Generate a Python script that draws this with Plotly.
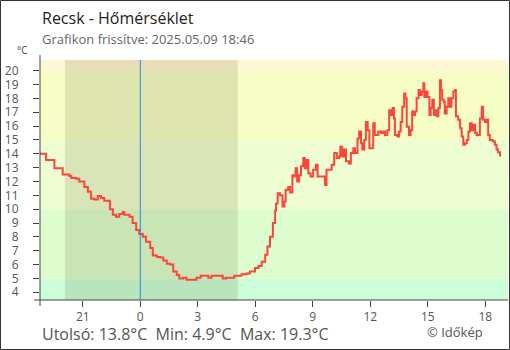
import plotly.graph_objects as go

# Temperature readings, Recsk, last 24 hours
times = [
    "2025-05-08 18:46", "2025-05-08 19:05", "2025-05-08 19:31", "2025-05-08 19:57",
    "2025-05-08 20:18", "2025-05-08 20:24", "2025-05-08 20:39", "2025-05-08 20:49",
    "2025-05-08 21:05", "2025-05-08 21:16", "2025-05-08 21:26", "2025-05-08 21:36",
    "2025-05-08 21:47", "2025-05-08 21:57", "2025-05-08 22:07", "2025-05-08 22:21",
    "2025-05-08 22:25", "2025-05-08 22:34", "2025-05-08 22:44", "2025-05-08 22:54",
    "2025-05-08 23:05", "2025-05-08 23:10", "2025-05-08 23:26", "2025-05-08 23:36",
    "2025-05-08 23:47", "2025-05-08 23:57",
    "2025-05-09 00:08", "2025-05-09 00:18", "2025-05-09 00:31", "2025-05-09 00:39",
    "2025-05-09 00:52", "2025-05-09 01:02", "2025-05-09 01:12", "2025-05-09 01:23",
    "2025-05-09 01:33", "2025-05-09 01:43", "2025-05-09 01:54", "2025-05-09 02:02",
    "2025-05-09 02:14", "2025-05-09 02:25", "2025-05-09 02:51", "2025-05-09 02:56",
    "2025-05-09 03:09", "2025-05-09 03:28", "2025-05-09 03:33", "2025-05-09 03:43",
    "2025-05-09 04:13", "2025-05-09 04:18", "2025-05-09 04:28", "2025-05-09 04:49",
    "2025-05-09 04:54", "2025-05-09 05:17", "2025-05-09 05:33", "2025-05-09 05:43",
    "2025-05-09 05:59", "2025-05-09 06:10", "2025-05-09 06:20", "2025-05-09 06:31",
    "2025-05-09 06:38", "2025-05-09 06:46", "2025-05-09 06:55", "2025-05-09 07:02",
    "2025-05-09 07:05", "2025-05-09 07:10", "2025-05-09 07:17", "2025-05-09 07:25",
    "2025-05-09 07:31", "2025-05-09 07:35", "2025-05-09 07:43", "2025-05-09 07:49",
    "2025-05-09 07:56", "2025-05-09 08:01", "2025-05-09 08:06", "2025-05-09 08:11",
    "2025-05-09 08:17", "2025-05-09 08:23", "2025-05-09 08:30", "2025-05-09 08:35",
    "2025-05-09 08:41", "2025-05-09 08:46", "2025-05-09 08:53", "2025-05-09 09:01",
    "2025-05-09 09:10", "2025-05-09 09:15", "2025-05-09 09:28", "2025-05-09 09:38",
    "2025-05-09 09:43", "2025-05-09 09:50", "2025-05-09 09:59", "2025-05-09 10:07",
    "2025-05-09 10:15", "2025-05-09 10:22", "2025-05-09 10:26", "2025-05-09 10:32",
    "2025-05-09 10:38", "2025-05-09 10:44", "2025-05-09 10:53", "2025-05-09 10:59",
    "2025-05-09 11:07", "2025-05-09 11:12", "2025-05-09 11:20", "2025-05-09 11:25",
    "2025-05-09 11:31", "2025-05-09 11:35", "2025-05-09 11:41", "2025-05-09 11:46",
    "2025-05-09 11:52", "2025-05-09 11:57", "2025-05-09 12:04", "2025-05-09 12:09",
    "2025-05-09 12:14", "2025-05-09 12:25", "2025-05-09 12:34", "2025-05-09 12:41",
    "2025-05-09 12:46", "2025-05-09 12:53", "2025-05-09 12:59", "2025-05-09 13:05",
    "2025-05-09 13:10", "2025-05-09 13:14", "2025-05-09 13:17", "2025-05-09 13:25",
    "2025-05-09 13:30", "2025-05-09 13:35", "2025-05-09 13:40", "2025-05-09 13:46",
    "2025-05-09 13:50", "2025-05-09 13:54", "2025-05-09 14:01", "2025-05-09 14:06",
    "2025-05-09 14:11", "2025-05-09 14:17", "2025-05-09 14:20", "2025-05-09 14:25",
    "2025-05-09 14:31", "2025-05-09 14:35", "2025-05-09 14:41", "2025-05-09 14:46",
    "2025-05-09 14:49", "2025-05-09 14:54", "2025-05-09 14:59", "2025-05-09 15:05",
    "2025-05-09 15:09", "2025-05-09 15:14", "2025-05-09 15:19", "2025-05-09 15:23",
    "2025-05-09 15:28", "2025-05-09 15:33", "2025-05-09 15:38", "2025-05-09 15:41",
    "2025-05-09 15:45", "2025-05-09 15:50", "2025-05-09 15:53", "2025-05-09 15:59",
    "2025-05-09 16:04", "2025-05-09 16:09", "2025-05-09 16:14", "2025-05-09 16:20",
    "2025-05-09 16:25", "2025-05-09 16:28", "2025-05-09 16:35", "2025-05-09 16:41",
    "2025-05-09 16:46", "2025-05-09 16:51", "2025-05-09 16:56", "2025-05-09 17:02",
    "2025-05-09 17:07", "2025-05-09 17:12", "2025-05-09 17:17", "2025-05-09 17:22",
    "2025-05-09 17:28", "2025-05-09 17:33", "2025-05-09 17:43", "2025-05-09 17:49",
    "2025-05-09 17:53", "2025-05-09 17:59", "2025-05-09 18:04", "2025-05-09 18:09",
    "2025-05-09 18:14", "2025-05-09 18:23", "2025-05-09 18:30", "2025-05-09 18:35",
    "2025-05-09 18:40", "2025-05-09 18:46",
]
temps = [
    14.0, 13.55, 12.95, 12.5, 12.4, 12.25, 12.2, 12.0,
    11.6, 11.25, 10.75, 10.7, 10.95, 10.8, 10.6, 10.6,
    10.0, 9.6, 9.45, 9.65, 9.8, 9.6, 9.45, 9.0,
    8.5, 8.2,
    8.0, 7.65, 7.2, 6.65, 6.55, 6.5, 6.3, 6.05,
    6.0, 5.5, 5.25, 5.0, 5.05, 4.9, 4.9, 5.05,
    5.2, 5.2, 5.05, 5.2, 5.2, 5.0, 5.05, 5.05,
    5.2, 5.3, 5.35, 5.5, 5.75, 5.9, 6.2, 6.7,
    7.3, 8.0, 9.0, 9.9, 10.4, 11.15, 11.0, 10.2,
    10.55, 11.4, 11.6, 11.2, 12.45, 12.35, 12.95, 12.0,
    12.45, 13.1, 13.7, 12.95, 13.55, 12.6, 12.35, 12.85,
    13.2, 12.35, 12.35, 11.75, 12.85, 12.85, 13.2, 14.05,
    13.7, 13.8, 14.5, 13.8, 14.3, 13.45, 13.3, 14.05,
    14.4, 14.05, 15.1, 15.6, 14.75, 14.3, 15.0, 16.3,
    15.7, 14.4, 14.4, 16.2, 15.35, 15.6, 15.5, 15.6,
    15.35, 15.7, 17.15, 16.8, 17.3, 16.55, 15.35, 15.25,
    15.6, 16.3, 17.4, 18.35, 18.0, 15.95, 15.35, 15.7,
    17.05, 16.8, 17.05, 18.0, 18.6, 18.25, 18.5, 19.1,
    18.1, 18.5, 18.1, 16.8, 17.3, 17.9, 16.8, 17.15,
    16.7, 17.3, 19.3, 18.6, 17.9, 17.75, 16.9, 17.4,
    18.0, 17.4, 18.0, 18.5, 18.6, 16.7, 16.45, 15.85,
    15.25, 14.65, 14.75, 15.0, 15.6, 16.2, 15.7, 16.1,
    15.5, 15.35, 16.55, 17.4, 16.45, 16.3, 16.45, 15.35,
    15.0, 14.9, 14.65, 14.3, 14.1, 13.8,
]

# Temperature bands behind the curve
band_edges = [-50, 5, 10, 15, 20, 50]
band_colors = ["#ccfdd9", "#ddfdcf", "#effdd3", "#f6fec6", "#fff6d3"]

# Night (sunset .. sunrise) and midnight marker
sunset = "2025-05-08 20:04"
sunrise = "2025-05-09 05:05"
midnight = "2025-05-09 00:00"

x_range = ["2025-05-08 18:46", "2025-05-09 19:11"]
y_range = [3.44, 20.77]
y_ticks = list(range(4, 21))

last_t = temps[-1]
min_t = min(temps)
max_t = max(temps)

W, H = 510, 350
L, R, T, B = 40, 2, 60, 50
PW, PH = W - L - R, H - T - B

def px(x):
    return (x - L) / PW

def py(y):
    return 1 - (y - T) / PH

FONT = "Open Sans"
AX = "#444444"
LBL = "#555555"

fig = go.Figure()

fig.add_trace(go.Scatter(
    x=times, y=temps, mode="lines",
    line=dict(color="#ff453a", width=2, shape="hv"),
    hoverinfo="skip", showlegend=False,
))

shapes = []
for lo, hi, col in zip(band_edges[:-1], band_edges[1:], band_colors):
    shapes.append(dict(type="rect", xref="paper", yref="y", x0=0, x1=1, y0=lo, y1=hi,
                       fillcolor=col, line_width=0, layer="below"))
shapes.append(dict(type="rect", xref="x", yref="paper", x0=sunset, x1=sunrise, y0=0, y1=1,
                   fillcolor="rgba(60,50,0,0.12)", line_width=0, layer="below"))
shapes.append(dict(type="line", xref="x", yref="paper", x0=midnight, x1=midnight, y0=0, y1=1,
                   line=dict(color="#1e8fe0", width=1), layer="above"))
# axis lines that run slightly past the plot corner
shapes.append(dict(type="line", xref="paper", yref="paper", x0=0, x1=0, y0=py(306), y1=py(55),
                   line=dict(color=AX, width=1)))
shapes.append(dict(type="line", xref="paper", yref="paper", x0=px(34), x1=1, y0=0, y1=0,
                   line=dict(color=AX, width=1)))
# outer frame
shapes.append(dict(type="rect", xref="paper", yref="paper", x0=px(0.5), x1=px(W - 0.5),
                   y0=py(H - 0.5), y1=py(0.5), line=dict(color="#333333", width=1)))

annotations = [
    dict(text="Recsk - Hőmérséklet", x=0, y=py(18.4), xref="paper", yref="paper",
         xanchor="left", yanchor="middle", showarrow=False,
         font=dict(family=FONT, size=16, color="#222222")),
    dict(text="Grafikon frissítve: 2025.05.09 18:46", x=0, y=py(39.5), xref="paper", yref="paper",
         xanchor="left", yanchor="middle", showarrow=False,
         font=dict(family=FONT, size=13, color="#666666")),
    dict(text="°C", x=px(15), y=py(50), xref="paper", yref="paper",
         xanchor="left", yanchor="middle", showarrow=False,
         font=dict(family=FONT, size=10, color="#444444")),
    dict(text=f"Utolsó: {last_t:.1f}°C  Min: {min_t:.1f}°C  Max: {max_t:.1f}°C",
         x=0, y=py(333.5), xref="paper", yref="paper",
         xanchor="left", yanchor="middle", showarrow=False,
         font=dict(family=FONT, size=16, color=LBL)),
    dict(text="© Időkép", x=px(425), y=py(331.5), xref="paper", yref="paper",
         xanchor="left", yanchor="middle", showarrow=False,
         font=dict(family=FONT, size=13, color=LBL)),
]

xcommon = dict(type="date", range=x_range, tick0=midnight, dtick=3 * 3600 * 1000,
               ticklen=6, tickcolor=AX, tickwidth=1, showgrid=False, zeroline=False,
               showline=False, fixedrange=True)
ycommon = dict(range=y_range, tickmode="array", tickvals=y_ticks,
               ticklen=6, tickcolor=AX, tickwidth=1, showgrid=False, zeroline=False,
               showline=False, fixedrange=True)

fig.update_layout(
    width=W, height=H,
    margin=dict(l=L, r=R, t=T, b=B),
    paper_bgcolor="white", plot_bgcolor="white",
    font=dict(family=FONT, color=LBL),
    xaxis=dict(**xcommon, ticks="outside", tickformat="%-H",
               tickfont=dict(family=FONT, size=12, color=LBL)),
    xaxis2=dict(**xcommon, ticks="inside", showticklabels=False, overlaying="x", anchor="y"),
    yaxis=dict(**ycommon, ticks="outside", ticklabelstandoff=12,
               tickfont=dict(family=FONT, size=12, color=LBL)),
    yaxis2=dict(**ycommon, ticks="inside", showticklabels=False, overlaying="y", anchor="x",
                side="left"),
    shapes=shapes, annotations=annotations,
    showlegend=False,
)

fig.write_html("out.html")
